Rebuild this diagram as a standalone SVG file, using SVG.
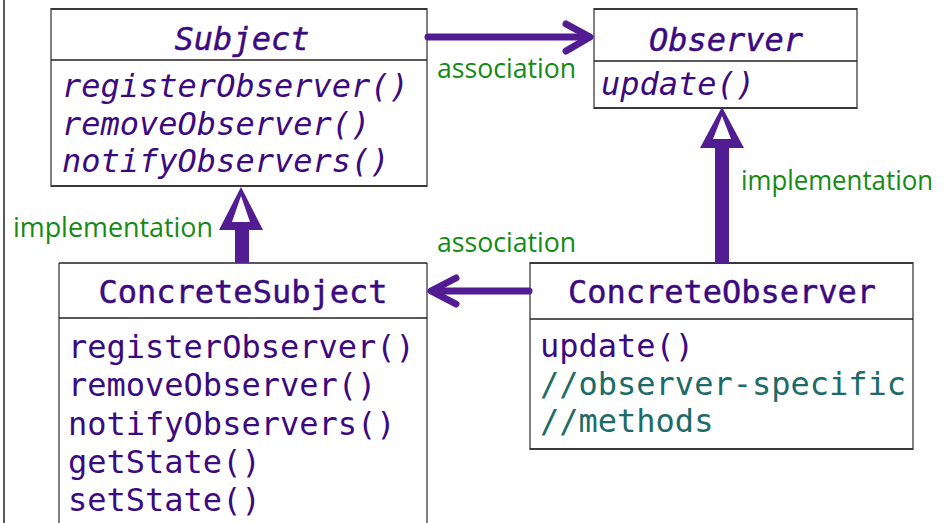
<svg xmlns="http://www.w3.org/2000/svg" width="945" height="523" viewBox="0 0 945 523">
  <style>
    .side { stroke: #808080; stroke-width: 2; fill: none; }
    .rule { stroke: #222; stroke-width: 1.5; fill: none; }
    .mono { font-family: "DejaVu Sans Mono", "Liberation Mono", monospace; font-size: 32px; fill: #3c0a80; }
    .title { stroke: #3c0a80; stroke-width: 0.45; }
    .ital { font-style: italic; }
    .note { fill: #1d6b68; }
    .lbl { font-family: "Open Sans", "DejaVu Sans", sans-serif; font-size: 28px; fill: #148a14; }
    .assoc { stroke: #521d93; stroke-width: 7; fill: none; stroke-linecap: round; stroke-linejoin: round; }
    .impl { fill: #521d93; }
    .hole { fill: #ffffff; }
  </style>

  <rect width="945" height="523" fill="#ffffff"/>
  <line x1="4" y1="0" x2="4" y2="523" class="rule"/>

  <!-- Subject (interface) -->
  <g id="subject">
    <rect x="51" y="9" width="376" height="177" fill="#ffffff" class="side"/>
    <line x1="51" y1="9" x2="427" y2="9" class="rule"/>
    <line x1="51" y1="60" x2="427" y2="60" class="rule"/>
    <line x1="51" y1="186" x2="427" y2="186" class="rule"/>
    <text x="242" y="50" text-anchor="middle" class="mono ital title">Subject</text>
    <text x="62" y="97" class="mono ital">registerObserver()</text>
    <text x="62" y="135" class="mono ital">removeObserver()</text>
    <text x="62" y="172" class="mono ital">notifyObservers()</text>
  </g>

  <!-- Observer (interface) -->
  <g id="observer">
    <rect x="594" y="9" width="263" height="99" fill="#ffffff" class="side"/>
    <line x1="594" y1="9" x2="857" y2="9" class="rule"/>
    <line x1="594" y1="61" x2="857" y2="61" class="rule"/>
    <line x1="594" y1="108" x2="857" y2="108" class="rule"/>
    <text x="726" y="51" text-anchor="middle" class="mono ital title">Observer</text>
    <text x="601" y="95" class="mono ital">update()</text>
  </g>

  <!-- ConcreteSubject -->
  <g id="concrete-subject">
    <line x1="59" y1="263" x2="59" y2="523" class="side"/>
    <line x1="427" y1="263" x2="427" y2="523" class="side"/>
    <line x1="59" y1="263" x2="427" y2="263" class="rule"/>
    <line x1="59" y1="318" x2="427" y2="318" class="rule"/>
    <text x="243" y="303" text-anchor="middle" class="mono title">ConcreteSubject</text>
    <text x="68" y="358" class="mono">registerObserver()</text>
    <text x="68" y="396" class="mono">removeObserver()</text>
    <text x="68" y="435" class="mono">notifyObservers()</text>
    <text x="68" y="473" class="mono">getState()</text>
    <text x="68" y="511" class="mono">setState()</text>
  </g>

  <!-- ConcreteObserver -->
  <g id="concrete-observer">
    <rect x="530" y="263" width="383" height="186" fill="#ffffff" class="side"/>
    <line x1="530" y1="263" x2="913" y2="263" class="rule"/>
    <line x1="530" y1="319" x2="913" y2="319" class="rule"/>
    <line x1="530" y1="449" x2="913" y2="449" class="rule"/>
    <text x="722" y="303" text-anchor="middle" class="mono title">ConcreteObserver</text>
    <text x="540" y="357" class="mono">update()</text>
    <text x="540" y="395" class="mono note">//observer-specific</text>
    <text x="540" y="432" class="mono note">//methods</text>
  </g>

  <!-- connectors -->
  <g id="connectors">
    <!-- Subject -> Observer association -->
    <line x1="428" y1="37" x2="589" y2="37" class="assoc"/>
    <polyline points="566,24 590,37 566,51" class="assoc"/>
    <text x="437" y="78" class="lbl" textLength="139" lengthAdjust="spacingAndGlyphs">association</text>

    <!-- ConcreteObserver -> ConcreteSubject association -->
    <line x1="529" y1="291" x2="432" y2="291" class="assoc"/>
    <polyline points="456,278 431,291 456,304" class="assoc"/>
    <text x="437" y="252" class="lbl" textLength="139" lengthAdjust="spacingAndGlyphs">association</text>

    <!-- ConcreteObserver implements Observer -->
    <rect x="715" y="146" width="14" height="117" class="impl"/>
    <polygon points="722,107 700,148 744,148" class="impl"/>
    <polygon points="722,116 713,139 731,139" class="hole"/>
    <text x="933" y="190" text-anchor="end" class="lbl" font-size="26.5" textLength="192" lengthAdjust="spacingAndGlyphs">implementation</text>

    <!-- ConcreteSubject implements Subject -->
    <rect x="235" y="228" width="14" height="35" class="impl"/>
    <polygon points="241,187 219,230 263,230" class="impl"/>
    <polygon points="241,196 232,222 250,222" class="hole"/>
    <text x="13" y="237" class="lbl" textLength="200" lengthAdjust="spacingAndGlyphs">implementation</text>
  </g>
</svg>
